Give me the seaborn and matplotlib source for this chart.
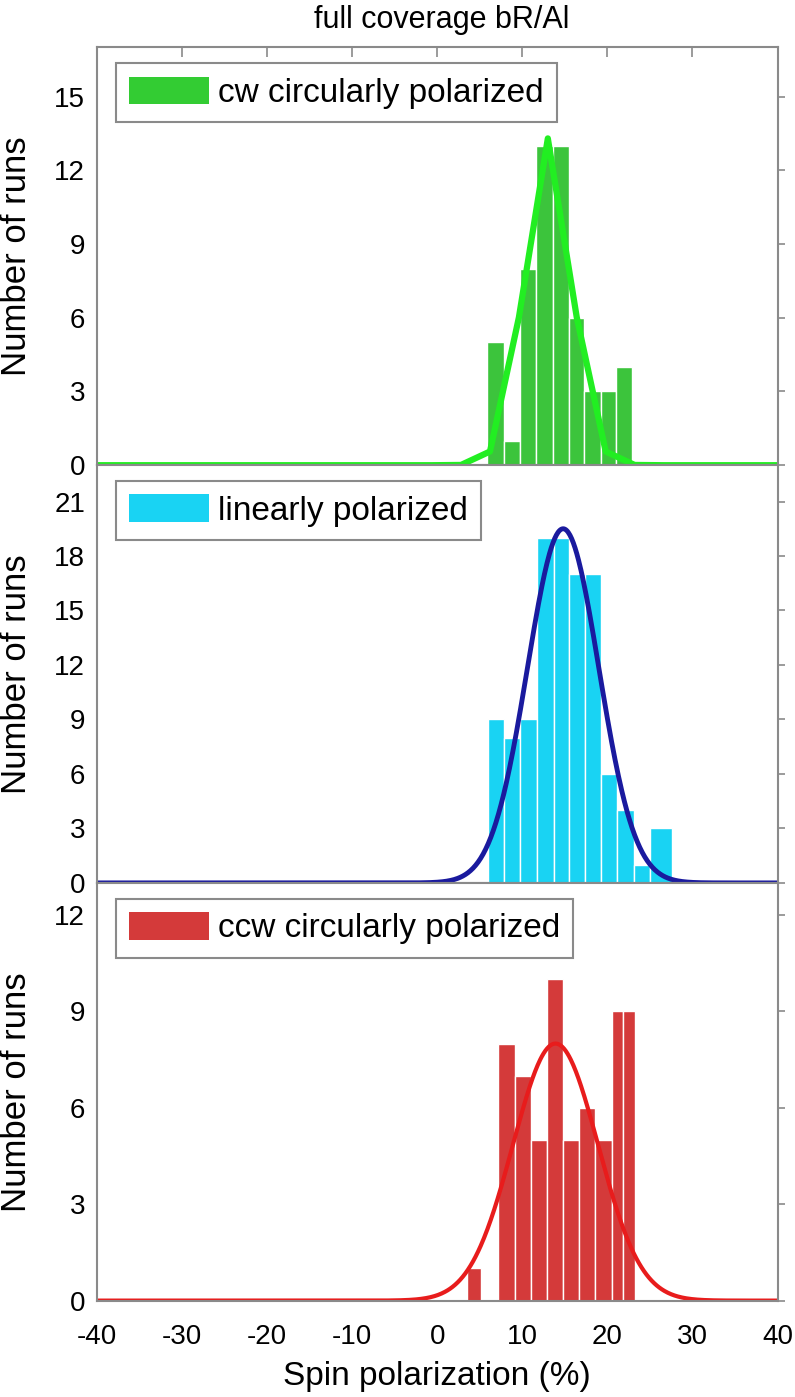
import numpy as np
import matplotlib
matplotlib.use("Agg")
import matplotlib.pyplot as plt
from matplotlib.patches import Patch
import seaborn as sns

# Datos (bordes de los bins y cuentas por bin)
x_ticks = [-40, -30, -20, -10, 0, 10, 20, 30, 40]

cw_edges = [5.85, 7.8, 9.7, 11.65, 13.6, 15.45, 17.2, 19.2, 21.06, 22.9]
cw_counts = [5, 1, 8, 13, 13, 6, 3, 3, 4]
cw_yticks = [0, 3, 6, 9, 12, 15]

lin_edges = [6.0, 7.8, 9.75, 11.7, 13.7, 15.45, 17.4, 19.2, 21.1, 23.1, 25.0, 27.6]
lin_counts = [9, 8, 9, 19, 19, 17, 17, 6, 4, 1, 3]
lin_yticks = [0, 3, 6, 9, 12, 15, 18, 21]

ccw_edges = [3.5, 5.1, 7.2, 9.1, 11.0, 12.9, 14.8, 16.7, 18.6, 20.5, 21.85, 23.2]
ccw_counts = [1, 0, 8, 7, 5, 10, 5, 6, 5, 9, 9]
ccw_yticks = [0, 3, 6, 9, 12]

# Parametros del ajuste gaussiano (amplitud, centro, sigma)
cw_fit = (13.3, 13.0, 2.7)
lin_fit = (19.5, 14.8, 4.2)
ccw_fit = (8.0, 13.9, 5.0)

labels = ["cw circularly polarized", "linearly polarized", "ccw circularly polarized"]


def gauss(x, amp, mu, sigma):
    return amp * np.exp(-(x - mu) ** 2 / (2 * sigma ** 2))


sns.set_theme(style="white")
plt.rcParams['font.family'] = ['Liberation Sans', 'DejaVu Sans']
plt.rcParams['axes.unicode_minus'] = False
plt.rcParams['text.color'] = 'black'
plt.rcParams['axes.labelcolor'] = 'black'

fig, axes = plt.subplots(3, 1, figsize=(7.95, 13.97), dpi=100, sharex=True)
fig.subplots_adjust(left=0.122, right=0.978, top=0.966, bottom=0.069, hspace=0)

# el ajuste cw esta muestreado de forma gruesa en el original
x_cw = cw_fit[1] + 3.4 * np.arange(-16, 9)
x_fine = np.linspace(-40, 40, 801)

paneles = [
    (cw_edges, cw_counts, cw_yticks, 17, cw_fit, x_cw, '#3cc43c', '#22ee22', 4.5, '#33cc33'),
    (lin_edges, lin_counts, lin_yticks, 23, lin_fit, x_fine, '#19d3f3', '#1a1a9e', 3.5, '#19d3f3'),
    (ccw_edges, ccw_counts, ccw_yticks, 13, ccw_fit, x_fine, '#d43a3a', '#e81c1c', 3.0, '#d43a3a'),
]

for ax, (edges, counts, yticks, ymax, fit, xf, bar_c, line_c, lw, leg_c), label in zip(axes, paneles, labels):
    centers = [(a + b) / 2 for a, b in zip(edges[:-1], edges[1:])]
    sns.histplot(x=centers, weights=counts, bins=edges, color=bar_c, alpha=1,
                 edgecolor='white', linewidth=1.0, ax=ax)
    sns.lineplot(x=xf, y=gauss(xf, *fit), color=line_c, linewidth=lw, ax=ax, zorder=5)

    ax.set_xlim(-40, 40)
    ax.set_ylim(0, ymax)
    ax.set_yticks(yticks)
    ax.set_xticks(x_ticks)
    ax.set_ylabel("Number of runs", fontsize=25, color='black')
    ax.yaxis.set_label_coords(-0.094, 0.5)

    for s in ax.spines.values():
        s.set_color('#8a8a8a')
        s.set_linewidth(1.5)
        s.set_zorder(10)
    ax.tick_params(axis='both', direction='out', length=7, width=1.2,
                   color='#8a8a8a', labelsize=20, labelcolor='black')
    ax.tick_params(axis='y', right=True, length=5)
    ax.tick_params(axis='x', pad=10)

    leg = ax.legend(handles=[Patch(facecolor=leg_c, edgecolor='none')], labels=[label],
                    loc='upper left', bbox_to_anchor=(0.028, 0.962), borderaxespad=0,
                    fontsize=24, frameon=True, fancybox=False, framealpha=1,
                    handlelength=2.4, handleheight=0.9, handletextpad=0.25,
                    borderpad=0.4, labelcolor='black')
    leg.get_frame().set_edgecolor('#8a8a8a')
    leg.get_frame().set_linewidth(1.5)

axes[0].tick_params(axis='x', top=True, direction='in')
axes[2].set_xlabel("Spin polarization (%)", fontsize=24, labelpad=8, color='black')

fig.text(0.555, 0.986, "full coverage bR/Al", ha='center', va='center', fontsize=22, color='black')

fig.savefig("out.png", dpi=100)
